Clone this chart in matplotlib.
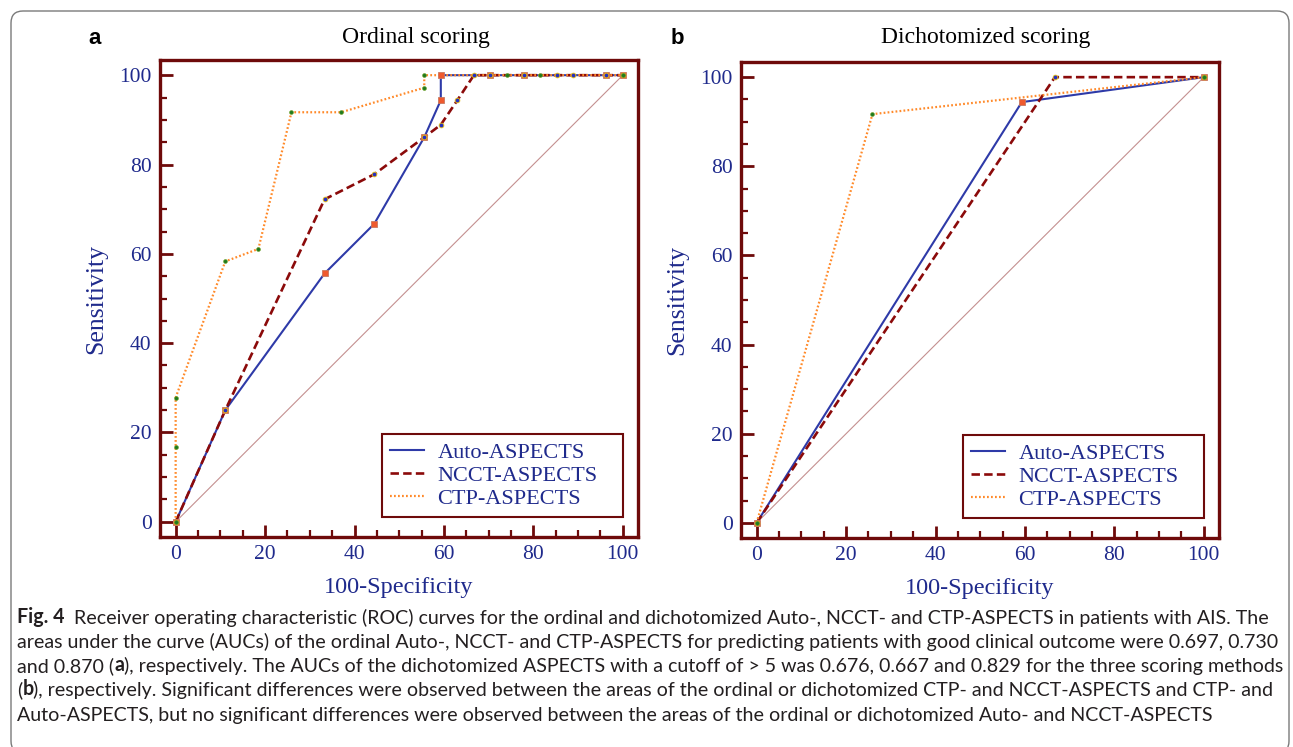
import matplotlib
matplotlib.use("Agg")
import matplotlib.pyplot as plt
from matplotlib.lines import Line2D
from matplotlib.patches import FancyBboxPatch
from matplotlib.transforms import IdentityTransform
from matplotlib.ticker import MultipleLocator

# ---- data ----
# panel a: ordinal scoring
auto_fpr = [0, 11.1, 33.3, 44.4, 55.6, 59.3, 59.3, 70.4, 77.8, 96.3, 100]
auto_tpr = [0, 25.0, 55.6, 66.7, 86.1, 94.4, 100, 100, 100, 100, 100]
ncct_fpr = [0, 11.1, 33.3, 44.4, 55.6, 59.3, 63.0, 66.7, 70.4, 77.8, 85.2, 88.9, 96.3, 100]
ncct_tpr = [0, 25.0, 72.2, 77.8, 86.1, 88.9, 94.4, 100, 100, 100, 100, 100, 100, 100]
ctp_fpr = [0, 0, 0, 11.1, 18.5, 25.9, 37.0, 55.6, 55.6, 74.1, 81.5, 100]
ctp_tpr = [0, 16.7, 27.8, 58.3, 61.1, 91.7, 91.7, 97.2, 100, 100, 100, 100]

# panel b: dichotomized scoring
auto_fpr_d = [0, 59.3, 100]
auto_tpr_d = [0, 94.4, 100]
ncct_fpr_d = [0, 66.7, 100]
ncct_tpr_d = [0, 100, 100]
ctp_fpr_d = [0, 25.9, 100]
ctp_tpr_d = [0, 91.7, 100]

diag = [0, 100]
series_names = ["Auto-ASPECTS", "NCCT-ASPECTS", "CTP-ASPECTS"]
panel_titles = ["Ordinal scoring", "Dichotomized scoring"]
panel_letters = ["a", "b"]

caption = [
    [("Fig. 4", True), ("  Receiver operating characteristic (ROC) curves for the ordinal and dichotomized Auto-, NCCT- and CTP-ASPECTS in patients with AIS. The", False)],
    [("areas under the curve (AUCs) of the ordinal Auto-, NCCT- and CTP-ASPECTS for predicting patients with good clinical outcome were 0.697, 0.730", False)],
    [("and 0.870 (", False), ("a", True), ("), respectively. The AUCs of the dichotomized ASPECTS with a cutoff of > 5 was 0.676, 0.667 and 0.829 for the three scoring methods", False)],
    [("(", False), ("b", True), ("), respectively. Significant differences were observed between the areas of the ordinal or dichotomized CTP- and NCCT-ASPECTS and CTP- and", False)],
    [("Auto-ASPECTS, but no significant differences were observed between the areas of the ordinal or dichotomized Auto- and NCCT-ASPECTS", False)],
]

# ---- styles ----
maroon = "#6e0a0a"
navy = "#1f2a8c"
c_auto = "#2e3aa8"
c_ncct = "#8b0a0a"
c_ctp = "#ff8a2a"
serif = ["Liberation Serif", "DejaVu Serif"]

W, H = 1293, 747
fig = plt.figure(figsize=(W / 100, H / 100), dpi=100)

# outer rounded frame
fig.patches.append(FancyBboxPatch((11, -6), 1278, 742,
                                  boxstyle="round,pad=0,rounding_size=12",
                                  transform=IdentityTransform(), fill=False,
                                  edgecolor="#7a7a7a", linewidth=1.0))

axes_px = [(160, 60, 638, 537), (741, 62, 1219, 538)]
panels = [
    (auto_fpr, auto_tpr, ncct_fpr, ncct_tpr, ctp_fpr, ctp_tpr),
    (auto_fpr_d, auto_tpr_d, ncct_fpr_d, ncct_tpr_d, ctp_fpr_d, ctp_tpr_d),
]

for i, (l, t, r, b) in enumerate(axes_px):
    ax = fig.add_axes([l / W, 1 - b / H, (r - l) / W, (b - t) / H])
    af, at, nf, nt, cf, ct = panels[i]

    ax.plot(diag, diag, color="#c49090", lw=0.8, zorder=1)
    ax.plot(af, at, color=c_auto, lw=1.5, zorder=3)
    ax.plot(nf, nt, color=c_ncct, lw=1.9, ls=(0, (3.2, 1.6)), zorder=3)
    ax.plot(cf, ct, color=c_ctp, lw=1.6, ls=(0, (0.8, 1.0)), zorder=3)
    ax.plot(af, at, ls="none", marker="s", ms=4.5, mfc="#ef5a2e", mec="#c87860", mew=0.6, zorder=4)
    ax.plot(nf, nt, ls="none", marker="o", ms=3.4, mfc="#2630c0", mec="#e8c010", mew=0.6, zorder=4)
    ax.plot(cf, ct, ls="none", marker="o", ms=2.8, mfc="#1f7a1f", mec="#6aa020", mew=0.4, zorder=5)

    ax.set_xlim(-3.5, 103.4)
    ax.set_ylim(-3.4, 103.4)
    ax.xaxis.set_major_locator(MultipleLocator(20))
    ax.yaxis.set_major_locator(MultipleLocator(20))
    ax.xaxis.set_minor_locator(MultipleLocator(5))
    ax.yaxis.set_minor_locator(MultipleLocator(5))
    ax.tick_params(which="both", direction="in", color=maroon, top=False, right=False)
    ax.tick_params(which="major", length=9, width=2.0, pad=6, labelsize=15.5, labelcolor=navy)
    ax.tick_params(which="minor", length=5, width=1.6)
    for lab in ax.get_xticklabels() + ax.get_yticklabels():
        lab.set_family(serif)
    for sp in ax.spines.values():
        sp.set_color(maroon)
        sp.set_linewidth(2.4)

    ax.set_xlabel("100-Specificity", fontsize=17.5, color=navy, family=serif)
    ax.set_ylabel("Sensitivity", fontsize=18.5, color=navy, family=serif)
    ax.xaxis.set_label_coords(0.5, -0.083)
    ax.yaxis.set_label_coords(-0.11, 0.5)

    handles = [
        Line2D([], [], color=c_auto, lw=1.5),
        Line2D([], [], color=c_ncct, lw=1.9, ls=(0, (3.2, 1.6))),
        Line2D([], [], color=c_ctp, lw=1.6, ls=(0, (0.8, 1.0))),
    ]
    leg = ax.legend(handles, series_names, loc="lower left", mode="expand",
                    bbox_to_anchor=(0.464, 0.042, 0.504, 0.187),
                    prop={"family": serif, "size": 16}, labelcolor=navy,
                    fancybox=False, framealpha=1, edgecolor=maroon,
                    borderpad=0.35, labelspacing=0.12, handlelength=1.55,
                    handletextpad=0.6, borderaxespad=0)
    leg.get_frame().set_linewidth(1.5)

    cx = (l + r) / 2 + (17 if i == 0 else 6)
    fig.text(cx / W, 1 - 38 / H, panel_titles[i], ha="center", va="center",
             fontsize=17, family=serif, color="black")
    fig.text((95 if i == 0 else 677) / W, 1 - 38 / H, panel_letters[i], ha="center",
             va="center", fontsize=16, fontweight="bold", family="Liberation Sans")

# caption font size: fit the second (plain) line to the printed width
cap_font = ["Lato", "DejaVu Sans"]
x_start, x_end = 17, 1276
probe = fig.text(0, 0, caption[1][0][0], fontsize=12, family=cap_font)
fig.canvas.draw()
cap_size = 12 * (x_end - x_start) / probe.get_window_extent().width
probe.remove()

# caption, drawn as chained text pieces so bold parts sit inline
y0 = 617
for k, line in enumerate(caption):
    last = None
    for txt, bold in line:
        kw = dict(fontsize=cap_size, family=cap_font, color="#231f20",
                  fontweight="bold" if bold else "normal")
        if last is None:
            last = fig.text(x_start / W, 1 - (y0 + 24.5 * k) / H, txt,
                            ha="left", va="center", **kw)
        else:
            last = fig.axes[0].annotate(txt, xy=(1, 0), xycoords=last, ha="left",
                                        va="bottom", annotation_clip=False, **kw)

fig.savefig("out.png", dpi=100)
